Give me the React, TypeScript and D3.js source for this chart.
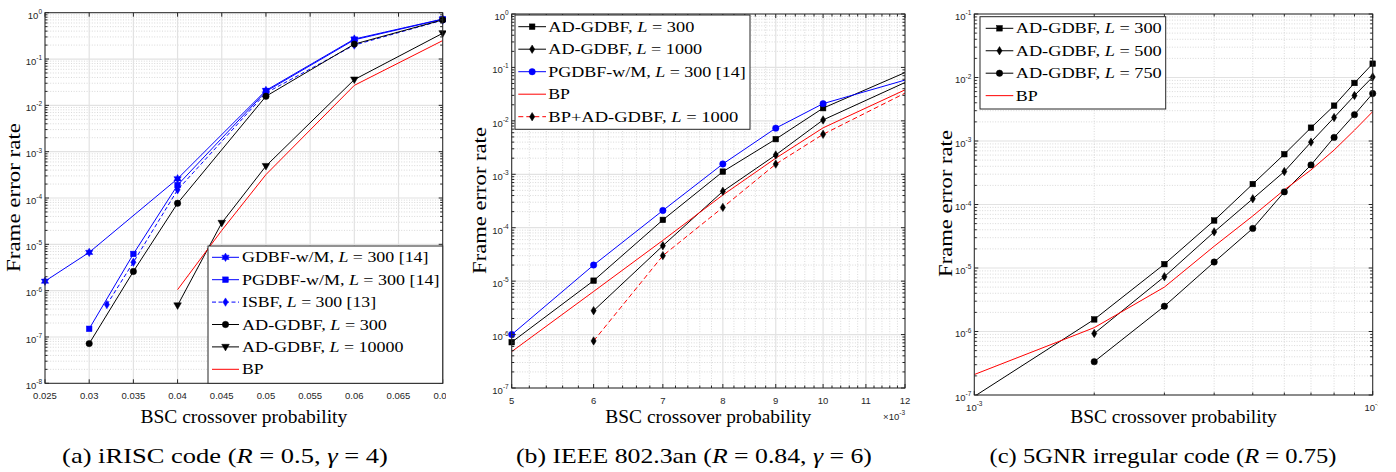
import * as d3 from "d3";
import { useLayoutEffect, useRef, useState } from "react";

// ---------- panel (a): iRISC code ----------
const aXTicks = [0.025, 0.03, 0.035, 0.04, 0.045, 0.05, 0.055, 0.06, 0.065, 0.07];
const aXTickLabels = ["0.025", "0.03", "0.035", "0.04", "0.045", "0.05", "0.055", "0.06", "0.065", "0.07"];
const aGdbfX = [0.025, 0.03, 0.04, 0.05, 0.06, 0.07];
const aGdbf = [1.6e-6, 6.7e-6, 2.6e-4, 2.1e-2, 0.27, 0.73];
const aPgdbfX = [0.03, 0.035, 0.04, 0.05, 0.06, 0.07];
const aPgdbf = [1.5e-7, 6.2e-6, 1.9e-4, 2.0e-2, 0.26, 0.72];
const aIsbfX = [0.032, 0.035, 0.04, 0.05, 0.06, 0.07];
const aIsbf = [5e-7, 4.1e-6, 1.5e-4, 1.85e-2, 0.2, 0.69];
const aAd300X = [0.03, 0.035, 0.04, 0.05, 0.06, 0.07];
const aAd300 = [7.2e-8, 2.6e-6, 7.7e-5, 1.57e-2, 0.21, 0.7];
const aAd10kX = [0.04, 0.045, 0.05, 0.06, 0.07];
const aAd10k = [4.8e-7, 2.9e-5, 4.9e-4, 3.6e-2, 0.36];
const aBpX = [0.04, 0.045, 0.05, 0.06, 0.07];
const aBp = [1.05e-6, 2.0e-5, 3.2e-4, 2.7e-2, 0.25];

// ---------- panel (b): IEEE 802.3an ----------
const bXTicks = [0.005, 0.006, 0.007, 0.008, 0.009, 0.01, 0.011, 0.012];
const bXTickLabels = ["5", "6", "7", "8", "9", "10", "11", "12"];
const bX5 = [0.005, 0.006, 0.007, 0.008, 0.009, 0.01, 0.013];
const bX6 = [0.006, 0.007, 0.008, 0.009, 0.01, 0.013];
const bAd300 = [7.2e-7, 1.02e-5, 1.4e-4, 1.12e-3, 4.55e-3, 1.73e-2, 0.157];
const bAd1000 = [2.8e-6, 4.6e-5, 4.8e-4, 2.3e-3, 1.04e-2, 0.106];
const bPgdbf = [1.0e-6, 2.0e-5, 2.1e-4, 1.56e-3, 7.3e-3, 2.1e-2, 0.0905];
const bBp = [4.8e-7, 6.4e-6, 5.8e-5, 4.1e-4, 2.0e-3, 7.4e-3, 0.078];
const bBpAd = [7.6e-7, 3.0e-5, 2.4e-4, 1.55e-3, 5.6e-3, 0.072];

// ---------- panel (c): 5GNR irregular code ----------
const cXTicks = [0.001, 0.01];
const cXTickExp = ["-3", "-2"];
const cX1 = [0.001, 0.002, 0.003, 0.004, 0.005, 0.006, 0.007, 0.008, 0.009, 0.01];
const cX2 = [0.002, 0.003, 0.004, 0.005, 0.006, 0.007, 0.008, 0.009, 0.01];
const cAd300 = [9.5e-8, 1.55e-6, 1.15e-5, 5.6e-5, 2.1e-4, 6.2e-4, 1.62e-3, 3.6e-3, 8.2e-3, 1.65e-2];
const cAd500 = [9.3e-7, 7.3e-6, 3.7e-5, 1.23e-4, 3.3e-4, 9.6e-4, 2.34e-3, 5.2e-3, 1.02e-2];
const cAd750 = [3.35e-7, 2.5e-6, 1.24e-5, 4.2e-5, 1.58e-4, 4.2e-4, 1.14e-3, 2.6e-3, 5.6e-3];
const cBp = [2.1e-7, 1.15e-6, 5e-6, 2.2e-5, 6.6e-5, 1.7e-4, 3.5e-4, 7.2e-4, 1.48e-3, 2.9e-3];

const BLUE = "#0000ff";
const RED = "#ff0000";
const BLACK = "#000000";
const AXIS = "#262626";
const SERIF = "'Liberation Serif', 'Times New Roman', serif";
const SANS = "'Liberation Sans', Arial, sans-serif";

type MarkerType = "none" | "hexagram" | "square" | "diamond" | "circle" | "triDown";
interface Series {
  name: string;
  x: number[];
  y: number[];
  color: string;
  dash?: string;
  marker: MarkerType;
  mfill?: string;
}

function hexagramPath(r: number) {
  const ri = r / Math.sqrt(3);
  const pts: string[] = [];
  for (let i = 0; i < 12; i++) {
    const a = -Math.PI / 2 + (i * Math.PI) / 6;
    const rr = i % 2 === 0 ? r : ri;
    pts.push(`${(rr * Math.cos(a)).toFixed(2)},${(rr * Math.sin(a)).toFixed(2)}`);
  }
  return "M" + pts.join("L") + "Z";
}

function Marker({ type, x, y, color }: { type: MarkerType; x: number; y: number; color: string }) {
  const common = { fill: color, stroke: color, strokeWidth: 0.5 };
  const t = `translate(${x},${y})`;
  switch (type) {
    case "square":
      return <rect x={x - 2.8} y={y - 2.8} width={5.6} height={5.6} {...common} />;
    case "circle":
      return <circle cx={x} cy={y} r={3.2} {...common} />;
    case "diamond":
      return <path transform={t} d="M0,-4.2L2.6,0L0,4.2L-2.6,0Z" {...common} />;
    case "triDown":
      return <path transform={t} d="M-3.8,-2.6L3.8,-2.6L0,4Z" {...common} />;
    case "hexagram":
      return <path transform={t} d={hexagramPath(4.2)} {...common} />;
    default:
      return null;
  }
}

function rich(str: string) {
  return str.split("$").map((seg, i) => (
    <tspan key={i} fontStyle={i % 2 ? "italic" : undefined}>
      {seg}
    </tspan>
  ));
}

function FitText({
  x, y, width, size, anchor = "middle", rotate = 0, text,
}: { x: number; y: number; width: number; size: number; anchor?: string; rotate?: number; text: string }) {
  const ref = useRef<SVGTextElement>(null);
  const [s, setS] = useState(1);
  useLayoutEffect(() => {
    if (ref.current) {
      const w = ref.current.getBBox().width;
      if (w > 0) setS(width / w);
    }
  }, [width, text]);
  return (
    <g transform={`translate(${x},${y}) rotate(${rotate}) scale(${s},1)`}>
      <text ref={ref} textAnchor={anchor} fontSize={size} fontFamily={SERIF} fill="#000">
        {rich(text)}
      </text>
    </g>
  );
}

interface PanelCfg {
  id: string;
  box: { l: number; r: number; t: number; b: number };
  xLog: boolean;
  xDomain: [number, number];
  yDomain: [number, number];
  xTicks: number[];
  xTickLabel: (i: number) => JSX.Element | string;
  xMinor: number[];
  series: Series[];
  legend: { x: number; y: number; w: number; h: number; lx1: number; lx2: number; tx: number; y0: number; dy: number; widths: number[] };
  ylabel: { x: number; y: number; w: number };
  xlabel: { y: number; w: number };
  caption: { x: number; text: string; w: number };
  clip?: [number, number];
}

function Panel({ cfg }: { cfg: PanelCfg }) {
  const { l, r, t, b } = cfg.box;
  const xs = cfg.xLog
    ? d3.scaleLog().domain(cfg.xDomain).range([l, r])
    : d3.scaleLinear().domain(cfg.xDomain).range([l, r]);
  const ys = d3.scaleLog().domain(cfg.yDomain).range([b, t]);
  const e0 = Math.round(Math.log10(cfg.yDomain[0]));
  const e1 = Math.round(Math.log10(cfg.yDomain[1]));
  const yMajor = d3.range(e0, e1 + 1).map((e) => Math.pow(10, e));
  const yMinor: number[] = [];
  for (let e = e0; e < e1; e++) for (let k = 2; k <= 9; k++) yMinor.push(k * Math.pow(10, e));

  const line = d3
    .line<[number, number]>()
    .x((d) => xs(d[0]))
    .y((d) => ys(d[1]));

  const inside = (xv: number, yv: number) =>
    xv >= cfg.xDomain[0] * (1 - 1e-6) &&
    xv <= cfg.xDomain[1] * (1 + 1e-6) &&
    yv >= cfg.yDomain[0] * (1 - 1e-6) &&
    yv <= cfg.yDomain[1] * (1 + 1e-6);

  const lg = cfg.legend;
  const xc = (l + r) / 2;

  const body = (
    <g>
      {/* grid */}
      {yMinor.map((v, i) => (
        <line key={"ym" + i} x1={l} x2={r} y1={ys(v)} y2={ys(v)} stroke="#cfcfcf" strokeWidth={0.8} strokeDasharray="1,1.6" />
      ))}
      {cfg.xMinor.map((v, i) => (
        <line key={"xm" + i} x1={xs(v)} x2={xs(v)} y1={t} y2={b} stroke="#cfcfcf" strokeWidth={0.8} strokeDasharray="1,1.6" />
      ))}
      {yMajor.map((v, i) => (
        <line key={"yM" + i} x1={l} x2={r} y1={ys(v)} y2={ys(v)} stroke="#e2e2e2" strokeWidth={1.2} />
      ))}
      {cfg.xTicks.map((v, i) => (
        <line key={"xM" + i} x1={xs(v)} x2={xs(v)} y1={t} y2={b} stroke="#e2e2e2" strokeWidth={1.2} />
      ))}

      {/* data */}
      <g clipPath={`url(#plot-${cfg.id})`}>
        {cfg.series.map((s, i) => (
          <path
            key={"s" + i}
            d={line(s.x.map((xv, j) => [xv, s.y[j]] as [number, number])) || ""}
            fill="none"
            stroke={s.color}
            strokeWidth={1}
            strokeDasharray={s.dash}
          />
        ))}
      </g>
      {cfg.series.map((s, i) =>
        s.x.map((xv, j) =>
          inside(xv, s.y[j]) ? (
            <Marker key={`m${i}-${j}`} type={s.marker} x={xs(xv)} y={ys(s.y[j])} color={s.mfill || s.color} />
          ) : null
        )
      )}

      {/* axes box and ticks */}
      <rect x={l} y={t} width={r - l} height={b - t} fill="none" stroke={AXIS} strokeWidth={1} />
      {cfg.xTicks.map((v, i) => (
        <g key={"xt" + i}>
          <line x1={xs(v)} x2={xs(v)} y1={b} y2={b - 4} stroke={AXIS} />
          <line x1={xs(v)} x2={xs(v)} y1={t} y2={t + 4} stroke={AXIS} />
          <text x={xs(v)} y={b + 15.5} textAnchor="middle" fontSize={9.5} fontFamily={SANS} fill={AXIS}>
            {cfg.xTickLabel(i)}
          </text>
        </g>
      ))}
      {cfg.xMinor.map((v, i) => (
        <g key={"xmt" + i}>
          <line x1={xs(v)} x2={xs(v)} y1={b} y2={b - 2.5} stroke={AXIS} />
          <line x1={xs(v)} x2={xs(v)} y1={t} y2={t + 2.5} stroke={AXIS} />
        </g>
      ))}
      {yMajor.map((v, i) => (
        <g key={"yt" + i}>
          <line x1={l} x2={l + 4} y1={ys(v)} y2={ys(v)} stroke={AXIS} />
          <line x1={r} x2={r - 4} y1={ys(v)} y2={ys(v)} stroke={AXIS} />
          <text x={l - 3} y={ys(v) + 5.8} textAnchor="end" fontSize={9.5} fontFamily={SANS} fill={AXIS}>
            10
            <tspan dy={-4.8} fontSize={6.5}>
              {String(e0 + i)}
            </tspan>
          </text>
        </g>
      ))}
      {yMinor.map((v, i) => (
        <g key={"ymt" + i}>
          <line x1={l} x2={l + 2.5} y1={ys(v)} y2={ys(v)} stroke={AXIS} />
          <line x1={r} x2={r - 2.5} y1={ys(v)} y2={ys(v)} stroke={AXIS} />
        </g>
      ))}

      {/* legend */}
      <rect x={lg.x} y={lg.y} width={lg.w} height={lg.h} fill="#fff" stroke={AXIS} strokeWidth={1} />
      {cfg.series.map((s, i) => {
        const cy = lg.y0 + i * lg.dy;
        return (
          <g key={"lg" + i}>
            <line x1={lg.lx1} x2={lg.lx2} y1={cy} y2={cy} stroke={s.color} strokeWidth={1} strokeDasharray={s.dash} />
            <Marker type={s.marker} x={(lg.lx1 + lg.lx2) / 2} y={cy} color={s.mfill || s.color} />
            <FitText x={lg.tx} y={cy + 5} width={lg.widths[i]} size={15} anchor="start" text={s.name} />
          </g>
        );
      })}

      {/* labels */}
      <FitText x={cfg.ylabel.x} y={cfg.ylabel.y} width={cfg.ylabel.w} size={19} rotate={-90} text="Frame error rate" />
      <FitText x={xc} y={cfg.xlabel.y} width={cfg.xlabel.w} size={18} text="BSC crossover probability" />
      <FitText x={cfg.caption.x} y={463} width={cfg.caption.w} size={20} text={cfg.caption.text} />
    </g>
  );

  return cfg.clip ? <g clipPath={`url(#panel-${cfg.id})`}>{body}</g> : body;
}

const sup = (base: string, e: string) => (
  <>
    {base}
    <tspan dy={-4.8} fontSize={6.5}>
      {e}
    </tspan>
  </>
);

const panels: PanelCfg[] = [
  {
    id: "a",
    box: { l: 45, r: 442.7, t: 12.7, b: 383.3 },
    xLog: false,
    xDomain: [0.025, 0.07],
    yDomain: [1e-8, 1],
    xTicks: aXTicks,
    xTickLabel: (i) => aXTickLabels[i],
    xMinor: [],
    series: [
      { name: "GDBF-w/M, $L$ = 300 [14]", x: aGdbfX, y: aGdbf, color: BLUE, marker: "hexagram" },
      { name: "PGDBF-w/M, $L$ = 300 [14]", x: aPgdbfX, y: aPgdbf, color: BLUE, marker: "square" },
      { name: "ISBF, $L$ = 300 [13]", x: aIsbfX, y: aIsbf, color: BLUE, dash: "4,2.5", marker: "diamond" },
      { name: "AD-GDBF, $L$ = 300", x: aAd300X, y: aAd300, color: BLACK, marker: "circle" },
      { name: "AD-GDBF, $L$ = 10000", x: aAd10kX, y: aAd10k, color: BLACK, marker: "triDown" },
      { name: "BP", x: aBpX, y: aBp, color: RED, marker: "none" },
    ],
    legend: { x: 208, y: 246, w: 234.7, h: 137.3, lx1: 212, lx2: 239, tx: 242, y0: 257.3, dy: 22.4, widths: [186.7, 197.6, 134.3, 145, 161.6, 21.6] },
    ylabel: { x: 20, y: 197.5, w: 149 },
    xlabel: { y: 423, w: 207 },
    caption: { x: 225, text: "(a) iRISC code ($R$ = 0.5, $γ$ = 4)", w: 326 },
    clip: [0, 446],
  },
  {
    id: "b",
    box: { l: 511.7, r: 905, t: 14, b: 388 },
    xLog: true,
    xDomain: [0.005, 0.012],
    yDomain: [1e-7, 1],
    xTicks: bXTicks,
    xTickLabel: (i) => bXTickLabels[i],
    xMinor: d3.range(25, 61).filter((k) => k % 5 !== 0).map((k) => k * 0.0002),
    series: [
      { name: "AD-GDBF, $L$ = 300", x: bX5, y: bAd300, color: BLACK, marker: "square" },
      { name: "AD-GDBF, $L$ = 1000", x: bX6, y: bAd1000, color: BLACK, marker: "diamond" },
      { name: "PGDBF-w/M, $L$ = 300 [14]", x: bX5, y: bPgdbf, color: BLUE, marker: "circle" },
      { name: "BP", x: bX5, y: bBp, color: RED, marker: "none" },
      { name: "BP+AD-GDBF, $L$ = 1000", x: bX6, y: bBpAd, color: RED, dash: "5,3", marker: "diamond", mfill: BLACK },
    ],
    legend: { x: 515, y: 15, w: 235, h: 114.3, lx1: 518.3, lx2: 546, tx: 548.3, y0: 26.7, dy: 22.5, widths: [146, 154, 197.7, 21.7, 190] },
    ylabel: { x: 486, y: 200.5, w: 147 },
    xlabel: { y: 423, w: 206 },
    caption: { x: 694, text: "(b) IEEE 802.3an ($R$ = 0.84, $γ$ = 6)", w: 356 },
  },
  {
    id: "c",
    box: { l: 974.3, r: 1372.7, t: 14, b: 395 },
    xLog: true,
    xDomain: [0.001, 0.01],
    yDomain: [1e-7, 0.1],
    xTicks: cXTicks,
    xTickLabel: (i) => sup("10", cXTickExp[i]),
    xMinor: [2, 3, 4, 5, 6, 7, 8, 9].map((k) => k * 0.001),
    series: [
      { name: "AD-GDBF, $L$ = 300", x: cX1, y: cAd300, color: BLACK, marker: "square" },
      { name: "AD-GDBF, $L$ = 500", x: cX2, y: cAd500, color: BLACK, marker: "diamond" },
      { name: "AD-GDBF, $L$ = 750", x: cX2, y: cAd750, color: BLACK, marker: "circle" },
      { name: "BP", x: cX1, y: cBp, color: RED, marker: "none" },
    ],
    legend: { x: 980, y: 16.7, w: 185.7, h: 92.3, lx1: 985.7, lx2: 1013.3, tx: 1015.7, y0: 28.3, dy: 22.45, widths: [146, 146, 146, 22] },
    ylabel: { x: 951.7, y: 203.5, w: 147 },
    xlabel: { y: 423, w: 206.7 },
    caption: { x: 1163, text: "(c) 5GNR irregular code ($R$ = 0.75)", w: 347 },
    clip: [930, 1377.5],
  },
];

export default function App() {
  return (
    <div>
      <style>{"body{margin:0;background:#fff}"}</style>
      <svg width={1396} height={472} style={{ display: "block", background: "#fff" }}>
        <defs>
          {panels.map((p) => (
            <clipPath key={"cp" + p.id} id={`plot-${p.id}`}>
              <rect x={p.box.l} y={p.box.t} width={p.box.r - p.box.l} height={p.box.b - p.box.t} />
            </clipPath>
          ))}
          {panels
            .filter((p) => p.clip)
            .map((p) => (
              <clipPath key={"pc" + p.id} id={`panel-${p.id}`}>
                <rect x={p.clip![0]} y={0} width={p.clip![1] - p.clip![0]} height={472} />
              </clipPath>
            ))}
        </defs>
        {panels.map((p) => (
          <Panel key={p.id} cfg={p} />
        ))}
        <text x={905} y={420} textAnchor="end" fontSize={9.5} fontFamily={SANS} fill={AXIS}>
          ×10
          <tspan dy={-4.8} fontSize={6.5}>
            -3
          </tspan>
        </text>
      </svg>
    </div>
  );
}
